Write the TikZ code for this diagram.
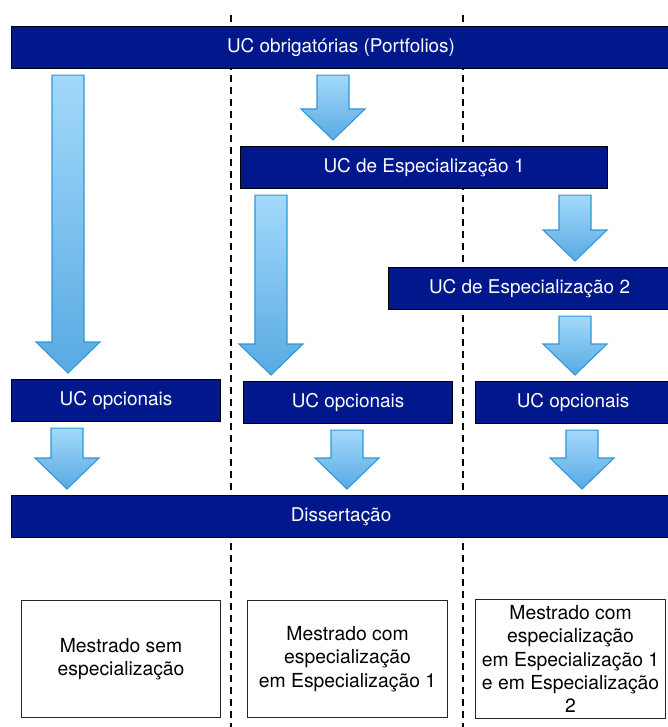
\documentclass[tikz,border=0pt]{standalone}
\usepackage{fontspec}
\setmainfont{TeX Gyre Heros}
\usetikzlibrary{calc}

\definecolor{barblue}{RGB}{0,24,140}
\definecolor{arrowtop}{RGB}{162,217,251}
\definecolor{arrowbottom}{RGB}{88,170,226}
\definecolor{arrowline}{RGB}{48,150,218}

\tikzset{
  bar/.style={draw=black, line width=0.8pt, fill=barblue, text=white, anchor=north west,
    minimum height=31.5pt, inner sep=0pt, font=\fontsize{14.2}{16}\selectfont},
  outcome/.style={draw=black!85, line width=0.8pt, fill=white, anchor=north west, align=center,
    inner sep=0pt, font=\fontsize{14.5}{17.5}\selectfont},
  divider/.style={dash pattern=on 5.25pt off 3.75pt, line width=1pt},
  blockarrow/.style={draw=arrowline, line width=0.8pt, top color=arrowtop, bottom color=arrowbottom}
}

% #1 x of the arrow, #2 node above, #3 node below
\newcommand{\flowarrow}[3]{%
  \path[blockarrow] let \p1=(#1,0), \p2=(#2.south), \p3=(#3.north) in
    (\x1-12pt,\y2-4.5pt) -- (\x1+12pt,\y2-4.5pt) -- (\x1+12pt,\y3+27.75pt)
    -- (\x1+24pt,\y3+27.75pt) -- (\x1,\y3+4.5pt) -- (\x1-24pt,\y3+27.75pt)
    -- (\x1-12pt,\y3+27.75pt) -- cycle;}

\begin{document}
\begin{tikzpicture}[x=0.75pt, y=-0.75pt]
    \useasboundingbox (0,0) rectangle (667,727);

    % Separators between the three paths
    \draw[divider] (231,15) -- (231,727);
    \draw[divider] (463,15) -- (463,727);

    \node[bar, minimum width=494.25pt] (obrig) at (11,26) {UC obrigatórias (Portfolios)};
    \node[bar, minimum width=275.25pt] (esp1) at (240,146) {UC de Especialização 1};
    \node[bar, minimum width=211.5pt] (esp2) at (388,267) {UC de Especialização 2};
    \node[bar, minimum width=156.75pt] (opc1) at (11,379) {UC opcionais};
    \node[bar, minimum width=156.75pt] (opc2) at (243,381) {UC opcionais};
    \node[bar, minimum width=146.25pt] (opc3) at (475,381) {UC opcionais};
    \node[bar, minimum width=494.25pt] (diss) at (11,495) {Dissertação};

    \node[outcome, minimum width=149.25pt, minimum height=87.75pt] (sem) at (21,600)
        {Mestrado sem\\especialização};
    \node[outcome, minimum width=150pt, minimum height=87.75pt] (com1) at (247,600)
        {Mestrado com\\especialização\\em Especialização 1};
    \node[outcome, minimum width=142.5pt, minimum height=89.25pt] (com2) at (475,599)
        {Mestrado com\\especialização\\em Especialização 1\\e em Especialização\\2};

    % Block arrows
    \flowarrow{68}{obrig}{opc1}
    \flowarrow{333}{obrig}{esp1}
    \flowarrow{271}{esp1}{opc2}
    \flowarrow{575}{esp1}{esp2}
    \flowarrow{575}{esp2}{opc3}
    \flowarrow{67}{opc1}{diss}
    \flowarrow{347}{opc2}{diss}
    \flowarrow{582}{opc3}{diss}
\end{tikzpicture}
\end{document}
